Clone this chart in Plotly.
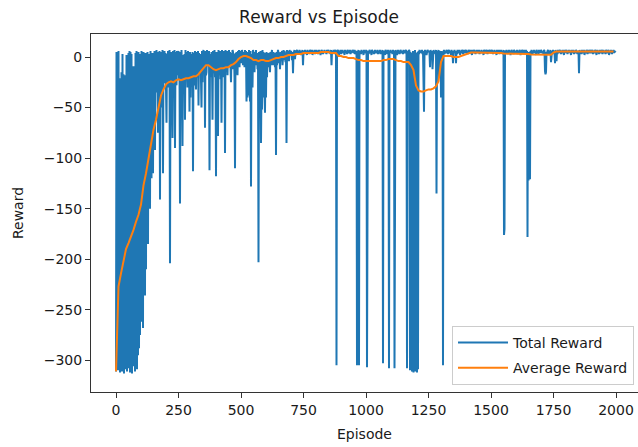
import plotly.graph_objects as go

# Total reward, one value every 2 episodes (rows of 50 episodes)
total_reward = [
    -311, 5, -305, 4, -310, 6, -309, -21, -312, -25, -300, -15, -311, 3, -306, -17, -313, -20, -302, -18, -309, 2, -311, -27, -304,
    4, -308, 6, -312, 5, -304, 3, -313, -11, -306, -9, -301, -12, -311, 4, -300, 6, -309, 2, -295, 5, -288, 3, -275, 2,
    -262, 6, -240, 3, -268, 5, -232, 1, -236, 4, -210, 2, -181, 5, -185, -10, -62, 3, -150, 6, -40, -120, 4, -30, -115,
    4, -28, 6, -92, 3, -22, 7, -35, 2, -75, 5, -30, 6, -141, 3, -18, 5, -50, 7, -115, 2, -26, 6, -20, 4,
    -24, -65, 3, -15, 6, -30, -28, 7, -204, 4, -18, 5, -22, -80, 6, -25, -35, 7, -90, 5, -12, -28, 6, -18, 4,
    6, -22, -10, -145, 5, -25, 7, -18, -88, 2, -30, -15, 3, -62, 7, -20, 5, -24, -30, 6, -12, -8, -54, 5, -40,
    3, -20, -22, 5, -113, 4, -28, -14, 6, -16, -32, 5, -20, -18, 6, -48, 4, -15, -10, 3, -22, -50, 6, -25, 4,
    7, -12, 5, -70, 6, -18, -15, 7, -8, 5, -9, 6, -112, 3, -14, -20, 5, -10, -62, 6, -16, -12, 7, -20, 3,
    -118, 5, -14, 3, -78, 7, -18, -10, 6, -22, 5, -65, 7, -12, -20, 6, -16, 5, -95, 7, -10, -14, 6, -18, 5,
    -10, 7, -8, 5, -15, -25, 4, -12, 7, 5, -12, 3, -20, -110, 4, -8, 5, -14, -18, 6, -6, 7, -10, 4, 6,
    2, -6, 7, 4, -8, 3, 5, -10, 7, -4, 6, -44, 3, -40, 5, -38, 7, -12, -44, 6, -128, 3, -10, -30, 7,
    4, -8, -15, 5, -6, 7, -8, 4, -12, 3, -203, 5, -10, -20, 6, -85, -30, -52, 7, -40, 5, -12, -35, -55, 4,
    -40, 5, -20, 3, -10, 4, 2, -6, -15, 5, -8, 4, 7, -6, -8, 5, -4, 2, -10, 4, -97, 5, -8, 3, 7,
    4, -6, 2, -12, 5, -4, 3, 6, -8, 5, 7, -3, 6, 4, -5, 3, -85, 7, -2, 4, 6, -4, 7, 5, 3,
    6, 4, -3, 5, -16, 3, 6, 7, -2, 5, 2, 6, 7, 4, 5, 3, 6, 7, 5, 4, 2, 6, 5, 7, -8,
    5, 6, 3, 7, 4, 6, 5, 2, 7, 4, 6, 5, 3, 7, 6, 4, 5, 7, 2, 6, 5, 4, 7, 3, 6,
    4, 7, 5, 6, 3, 5, 7, 4, 6, 2, 5, 7, 6, 4, 3, 6, 5, 7, 4, 6, 5, 3, 7, 5, 6,
    7, 4, 5, 6, 3, 7, -8, 5, 6, 4, 7, 5, 3, 6, 7, 4, -305, 5, 6, 7, 4, 2, 6, 5, 7,
    3, 6, 5, 7, 4, 5, 6, 2, 7, 5, 4, 6, 3, 7, 5, 6, 4, 5, 7, 3, 6, 4, 5, 7, 6,
    5, 4, 7, 3, 6, 5, 2, -305, 6, 5, 7, -305, 4, 6, 5, 3, 7, 4, 6, 5, 2, 7, 5, 4, 6,
    5, 7, -307, 4, 6, 3, 5, 7, 6, 4, 5, 2, 7, 6, 4, 5, 3, 6, 7, 5, 4, 6, 5, 7, 3,
    6, 4, 5, 7, 3, 6, 5, 4, 7, -303, 5, 6, 4, 2, 7, 5, 6, 3, 5, 7, 4, -308, 6, 5, 7,
    4, 6, 5, 3, 7, 5, 6, -308, 4, 7, 5, 6, 2, 5, 7, 4, 6, 3, 5, 7, 6, 4, 5, 6, 3,
    7, 5, 4, 6, 5, 7, 3, -308, 6, 5, 4, 7, 6, -310, 5, -309, 4, -311, -310, 6, -312, 5, -309, 7, -311,
    4, -310, -312, 5, -309, 6, 3, 7, 5, 4, 6, 5, 7, 3, 6, -25, -54, 5, 7, 4, 6, 2, 5, 7, 6,
    5, 6, 4, -10, 7, 5, 3, 6, -12, 5, 7, 4, 6, 5, 3, 7, -135, 6, 4, 5, 7, -20, 6, 3, 5,
    -40, 6, -38, 4, -305, 5, 7, 3, 6, 5, 4, 7, 6, 5, 3, 6, 7, 4, 5, 6, 2, 7, 5, 4, -6,
    6, 5, 7, 4, 6, -6, 5, 3, 7, 6, 4, 5, 7, 2, 6, 5, 4, 7, 6, 3, 5, 7, 4, 6, 5,
    7, 4, 6, 5, 3, 7, 6, 5, 4, 7, 5, 6, 2, 7, 5, 4, 6, 7, 5, 3, 6, 5, 7, 4, 6,
    5, 7, 3, 6, 4, 5, 7, 6, 4, 5, 2, 7, 6, 5, 4, 7, 5, 6, 3, 7, 5, 4, 6, 7, 5,
    4, 6, 7, 5, 3, 6, 5, 7, 4, 6, 5, 2, 7, 5, 6, 4, 7, 3, 6, 5, 7, 4, 5, 6, 3,
    7, -176, -170, 5, 6, 4, 7, 5, 3, 6, 5, 7, 4, 6, 2, 5, 7, 6, 4, 5, 3, 7, 6, 5, 4,
    6, 5, 7, 3, 6, 4, 5, 7, 6, 2, 5, 4, 7, 6, 5, 3, 7, 4, 6, 5, 7, 4, 6, -178, 5,
    -122, -118, 5, -121, 6, 4, 7, 5, 3, 6, 5, 7, 4, 6, 5, 2, 7, 6, 4, 5, 3, 7, 5, 6, 4,
    7, 5, 6, 4, 5, 3, 7, 6, -14, -17, -15, 5, 4, 6, 7, 3, 5, 6, 4, 7, -5, 5, 6, 3, 7,
    5, 4, 6, -6, 7, 5, -4, 6, 3, 7, 5, 4, 6, 7, 5, 3, 6, 4, 7, 5, 6, 2, 7, 5, 4,
    6, 7, 5, 3, 6, 4, 7, 5, 6, 5, 2, 7, 4, 6, 5, 7, 3, 6, 5, 4, 7, 6, 5, 3, 6,
    5, -16, 7, 4, 6, 5, 3, 7, 6, 4, 5, 7, 2, 6, 5, 4, 7, 6, 3, 5, 7, 4, 6, 5, 7,
    4, 6, 5, 7, 3, 6, 5, 4, 7, 6, 5, 2, 7, 4, 6, 5, 3, 7, 6, 4, 5, 7, 6, 3, 5,
    7, 4, 6, 5, 3, 7, 6, 5, 4, 6, 7, 2, 5, 6, 4, 7, 5, 3, 6, 5, 7, 4, 6, 5, 6,
]
total_step = 2  # episodes between stored total-reward values

# Average reward, one value every 10 episodes
average_reward = [
    -311, -227, -214, -203, -190, -184, -178, -171, -163, -156,
    -146, -127, -115, -100, -86, -72, -62, -50, -38, -32,
    -27, -25, -24, -25, -23, -22, -23, -22, -21, -21,
    -20, -19, -19, -17, -14, -11, -8, -8, -10, -12,
    -13, -12, -11, -11, -10, -10, -8, -7, -5, -2,
    0, 1, 1, 0, -1, -3, -3, -4, -3, -3,
    -4, -4, -3, -2, -1, -1, 0, 0, 1, 2,
    2, 2, 3, 3, 3, 4, 4, 4, 4, 4,
    4, 4, 5, 5, 5, 5, 4, 4, 4, 1,
    1, 0, 0, -1, -1, -1, -2, -3, -3, -4,
    -4, -4, -4, -4, -4, -4, -4, -3, -3, -2,
    -2, -2, -3, -4, -4, -5, -5, -5, -8, -13,
    -28, -33, -34, -34, -33, -32, -32, -31, -29, -24,
    -5, 1, 1, 1, 1, 0, 0, 0, 1, 2,
    3, 4, 4.5, 4.5, 4.5, 4.5, 4.5, 4.5, 4.5, 4.5,
    4.5, 4.5, 4.5, 4.3, 4, 3.5, 3.3, 3.3, 3.3, 3.3,
    3.3, 3.3, 3.3, 3.3, 3.3, 3, 2.5, 2.5, 2.5, 2.5,
    2.5, 2.5, 2.5, 2.3, 2.3, 4.5, 5.5, 5.5, 5.5, 5.5,
    5.5, 5.5, 5.5, 5.5, 5.5, 5.5, 5.5, 5.5, 5.5, 5.5,
    5.5, 5.5, 5.5, 5.5, 5.5, 5.5, 5.5, 5.5, 5.5, 5.5,
]
average_step = 10

x_ticks = [0, 250, 500, 750, 1000, 1250, 1500, 1750, 2000]
y_ticks = [0, -50, -100, -150, -200, -250, -300]

total_episodes = [i * total_step for i in range(len(total_reward))]
average_episodes = [i * average_step for i in range(len(average_reward))]

FONT = "DejaVu Sans"
INK = "#1a1a1a"

fig = go.Figure()
fig.add_trace(go.Scatter(
    x=total_episodes, y=total_reward, mode="lines", name="Total Reward",
    legendgroup="total", line=dict(color="#1f77b4", width=2),
))
fig.add_trace(go.Scatter(
    x=average_episodes, y=average_reward, mode="lines", name="Average Reward",
    legendgroup="average", line=dict(color="#ff7f0e", width=2),
))

fig.update_layout(
    width=638, height=447,
    margin=dict(l=91, r=0, t=34, b=55),
    paper_bgcolor="white", plot_bgcolor="white",
    font=dict(family=FONT, size=14, color=INK),
    title=dict(text="Reward vs Episode", x=0.5, xanchor="center",
               y=1 - 17 / 447, yref="container", yanchor="middle",
               font=dict(family=FONT, size=17, color=INK)),
    showlegend=True,
    legend=dict(x=0.9927, y=0.0196, xanchor="right", yanchor="bottom",
                traceorder="grouped", tracegroupgap=4, itemwidth=50,
                bgcolor="rgba(255,255,255,0.8)", bordercolor="#cccccc",
                borderwidth=1, font=dict(family=FONT, size=14, color=INK)),
    xaxis=dict(range=[-100, 2088], tickvals=x_ticks,
               ticktext=[str(v) for v in x_ticks],
               showgrid=False, zeroline=False, showline=True,
               linecolor="#333333", linewidth=1, mirror=True,
               ticks="outside", ticklen=5, tickcolor="#333333",
               title=dict(text="Episode", standoff=12,
                          font=dict(family=FONT, size=14, color=INK))),
    yaxis=dict(range=[-331.4, 22.8], tickvals=y_ticks,
               showgrid=False, zeroline=False, showline=True,
               linecolor="#333333", linewidth=1,
               ticks="outside", ticklen=5, tickcolor="#333333",
               title=dict(text="Reward", standoff=16,
                          font=dict(family=FONT, size=14, color=INK))),
)

fig.write_html("out.html", config={"displayModeBar": False})
